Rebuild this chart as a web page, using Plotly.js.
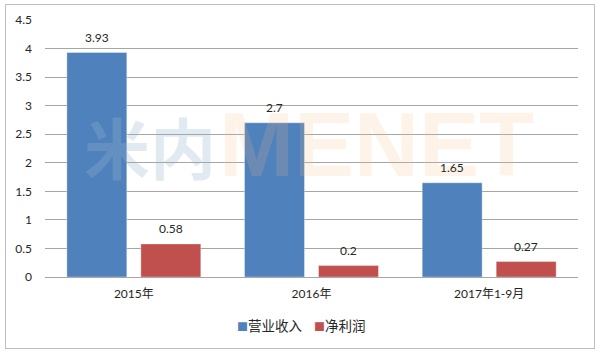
<!DOCTYPE html>
<html><head><meta charset="utf-8">
<script src="https://cdn.plot.ly/plotly-3.0.1.min.js"></script>
<style>
html,body{margin:0;padding:0;background:#fff;}
#wrap{position:relative;width:600px;height:355px;}
#chart{width:600px;height:355px;}
#frame{position:absolute;left:5px;top:4px;width:588px;height:343px;border:1px solid #bfbfbf;pointer-events:none;}
</style></head>
<body>
<div id="wrap"><div id="chart"></div><div id="frame"></div></div>
<script>
const categories = ['2015年', '2016年', '2017年1-9月'];
const revenue = [3.93, 2.7, 1.65];
const profit = [0.58, 0.2, 0.27];
const seriesNames = ['营业收入', '净利润'];
const seriesColors = ['#4f81bd', '#c0504d'];
const yTicks = [0, 0.5, 1, 1.5, 2, 2.5, 3, 3.5, 4, 4.5];
const yTickText = ['0', '0.5', '1', '1.5', '2', '2.5', '3', '3.5', '4', '4.5'];

const fontFam = 'Lato, "Noto Sans CJK SC", sans-serif';
const txtFont = {family: fontFam, size: 12, color: '#262626'};

const traces = [revenue, profit].map((vals, k) => ({
  type: 'bar', name: seriesNames[k], x: categories, y: vals,
  marker: {color: seriesColors[k], line: {color: 'rgba(255,255,255,0.35)', width: 1}},
  hoverinfo: 'none', showlegend: false
}));

const annotations = [];
// watermark
annotations.push(
  {text: '<b>米内</b>', xref: 'paper', yref: 'paper', x: 0.197, y: 0.515,
   xanchor: 'center', yanchor: 'middle', showarrow: false,
   font: {family: '"Noto Sans CJK SC", sans-serif', size: 66, weight: 900, color: 'rgba(150,180,205,0.28)'}},
  {text: '<b>MENET</b>', xref: 'paper', yref: 'paper', x: 0.622, y: 0.515,
   xanchor: 'center', yanchor: 'middle', showarrow: false,
   font: {family: '"Liberation Sans", sans-serif', size: 90, color: 'rgba(248,190,130,0.18)'}}
);
// data labels
[revenue, profit].forEach((vals, k) => {
  vals.forEach((v, i) => {
    annotations.push({x: categories[i], y: v, xref: 'x', yref: 'y', text: String(v),
      showarrow: false, xanchor: 'center', yanchor: 'bottom',
      xshift: k === 0 ? -37 : 37, yshift: 6, font: txtFont});
  });
});
// legend
annotations.push({xref: 'paper', yref: 'paper', x: 0.482, y: -0.187,
  xanchor: 'center', yanchor: 'middle', showarrow: false,
  text: '<span style="color:' + seriesColors[0] + ';font-size:11px">■</span>' + seriesNames[0] +
        '    <span style="color:' + seriesColors[1] + ';font-size:11px">■</span>' + seriesNames[1],
  font: {family: '"Noto Sans CJK SC", sans-serif', size: 13.5, color: '#262626'}});

const layout = {
  width: 600, height: 355,
  margin: {l: 45, r: 22, t: 20, b: 78},
  paper_bgcolor: '#fff', plot_bgcolor: '#fff',
  barmode: 'group', bargap: 0.167, bargroupgap: 0.19,
  showlegend: false,
  xaxis: {type: 'category', showgrid: false, zeroline: false, showline: false,
          ticks: '', tickfont: txtFont, ticklabelstandoff: 8},
  yaxis: {range: [0, 4.5], tickvals: yTicks, ticktext: yTickText,
          showgrid: true, gridcolor: '#a6a6a6', gridwidth: 1,
          zeroline: true, zerolinecolor: '#a6a6a6', zerolinewidth: 1,
          showline: false, ticks: '', tickfont: txtFont, ticklabelstandoff: 12},
  annotations: annotations
};

Plotly.newPlot('chart', traces, layout, {displayModeBar: false, staticPlot: true});
</script>
</body></html>
